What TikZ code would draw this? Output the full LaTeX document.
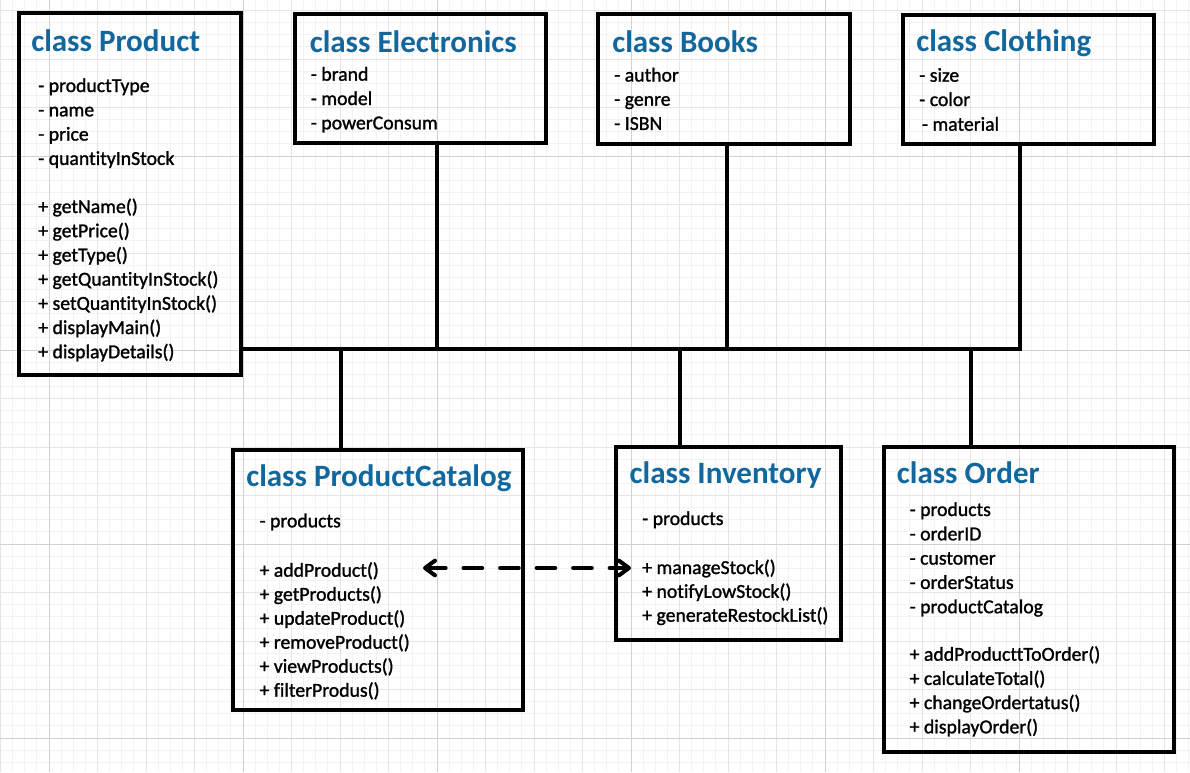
\documentclass[tikz,border=0pt]{standalone}
\usepackage{fontspec}
\setmainfont{Carlito}[Ligatures=NoCommon]
\newfontfamily\bodyfont{Carlito}[Ligatures=NoCommon, BoldFont={Carlito}, BoldFeatures={FakeBold=1.3}]
\usetikzlibrary{arrows.meta,fit}
\definecolor{titleblue}{RGB}{18,104,156}
\definecolor{gridminor}{RGB}{243,243,243}
\definecolor{gridmid}{RGB}{229,229,229}
\definecolor{gridmajor}{RGB}{210,210,210}
\begin{document}
\begin{tikzpicture}[x=0.75pt,y=-0.75pt,
  classbox/.style={draw=black, line width=3pt, rectangle, inner sep=0pt, outer sep=0pt},
  conn/.style={draw=black, line width=3pt},
  dasharrow/.style={draw=black, line width=3pt, line cap=round, dash pattern=on 14pt off 13.4pt,
     {Straight Barb[length=7.5pt,width=11pt,line cap=round,line join=round]}-{Straight Barb[length=7.5pt,width=11pt,line cap=round,line join=round]}},
  ctitle/.style={anchor=base west, inner sep=0pt, font=\fontsize{23.3pt}{28pt}\selectfont\bfseries, text=titleblue},
  cbody/.style={anchor=base west, inner sep=0pt, font=\bodyfont\fontsize{14.8pt}{18pt}\selectfont\bfseries},
  gmin/.style={draw=gridminor, line width=0.75pt},
  gmid/.style={draw=gridmid, line width=0.75pt},
  gmaj/.style={draw=gridmajor, line width=0.75pt}]
\useasboundingbox (0,0) rectangle (1190,772);
\fill[white] (0,0) rectangle (1190,772);
% grid
\foreach \i in {-4,...,94}{\draw[gmin] (49+12.125*\i,0) -- (49+12.125*\i,772);}
\foreach \j in {-12,...,50}{\draw[gmin] (0,156+12.125*\j) -- (1190,156+12.125*\j);}
\foreach \i in {-1,...,23}{\draw[gmid] (49+48.5*\i,0) -- (49+48.5*\i,772);}
\foreach \j in {-3,...,12}{\draw[gmid] (0,156+48.5*\j) -- (1190,156+48.5*\j);}
\foreach \i in {0,...,5}{\draw[gmaj] (49+194*\i,0) -- (49+194*\i,772);}
\foreach \j in {0,...,3}{\draw[gmaj] (0,156+194*\j) -- (1190,156+194*\j);}

% boxes
\node[classbox, fit={(19,13.3) (240.5,374.7)}] (product) {};
\node[classbox, fit={(295,13.8) (546,143.3)}] (electronics) {};
\node[classbox, fit={(598.4,14) (850,144)}] (books) {};
\node[classbox, fit={(903,14.5) (1154,144)}] (clothing) {};
\node[classbox, fit={(233,449.7) (523,709.5)}] (catalog) {};
\node[classbox, fit={(616,446.7) (840.8,640)}] (inventory) {};
\node[classbox, fit={(884,447) (1174,751.7)}] (order) {};

% connectors
\coordinate (jel) at (437,349);
\coordinate (jbo) at (727,349);
\coordinate (jcl) at (1020,349);
\coordinate (jca) at (341,349);
\coordinate (jin) at (680,349);
\coordinate (jor) at (971,349);
\draw[conn] (jcl -| product.east) -- (jcl) -- (jcl |- clothing.south);
\draw[conn] (jel |- electronics.south) -- (jel);
\draw[conn] (jbo |- books.south) -- (jbo);
\draw[conn] (jca) -- (jca |- catalog.north);
\draw[conn] (jin) -- (jin |- inventory.north);
\draw[conn] (jor) -- (jor |- order.north);

% dashed arrow
\coordinate (dl) at (423,568);
\coordinate (dr) at (631,568);
\draw[dasharrow] (dl) -- (dr);

% Product
\node[ctitle] (tproduct) at (31,51) {class Product};
\foreach \t [count=\k from 0] in {- productType, - name, - price, - quantityInStock}
  \node[cbody] (pa\k) at (38,92+24.3*\k) {\t};
\foreach \t [count=\k from 0] in {+ getName(), + getPrice(), + getType(), + getQuantityInStock(), + setQuantityInStock(), + displayMain(), + displayDetails()}
  \node[cbody] (pm\k) at (38,213+24.2*\k) {\t};

% Electronics
\node[ctitle] (telectronics) at (309.5,52) {class Electronics};
\foreach \t [count=\k from 0] in {- brand, - model, - powerConsum}
  \node[cbody] (ea\k) at (310.6,80.7+24.3*\k) {\t};

% Books
\node[ctitle] (tbooks) at (612,52.5) {class Books};
\foreach \t [count=\k from 0] in {- author, - genre, - ISBN}
  \node[cbody] (ba\k) at (614,81.5+24.2*\k) {\t};

% Clothing
\node[ctitle] (tclothing) at (916,51.7) {class Clothing};
\node[cbody] (ca0) at (919,81.7) {- size};
\node[cbody] (ca1) at (919,106) {- color};
\node[cbody] (ca2) at (921.7,130.7) {- material};

% ProductCatalog
\node[ctitle] (tcatalog) at (246,486) {class ProductCatalog};
\node[cbody] (pca0) at (259.3,527.3) {- products};
\foreach \t [count=\k from 0] in {+ addProduct(), + getProducts(), + updateProduct(), + removeProduct(), + viewProducts(), + filterProdus()}
  \node[cbody] (pcm\k) at (259.3,576.7+24*\k) {\t};

% Inventory
\node[ctitle] (tinventory) at (629.4,483.3) {class Inventory};
\node[cbody] (ia0) at (642,525) {- products};
\foreach \t [count=\k from 0] in {+ manageStock(), + notifyLowStock(), + generateRestockList()}
  \node[cbody] (im\k) at (642,574+23.85*\k) {\t};

% Order
\node[ctitle] (torder) at (896.6,483.3) {class Order};
\foreach \t [count=\k from 0] in {- products, - orderID, - customer, - orderStatus, - productCatalog}
  \node[cbody] (oa\k) at (909.4,516+24.3*\k) {\t};
\foreach \t [count=\k from 0] in {+ addProducttToOrder(), + calculateTotal(), + changeOrdertatus(), + displayOrder()}
  \node[cbody] (om\k) at (909.4,660.7+24.2*\k) {\t};
\end{tikzpicture}
\end{document}
